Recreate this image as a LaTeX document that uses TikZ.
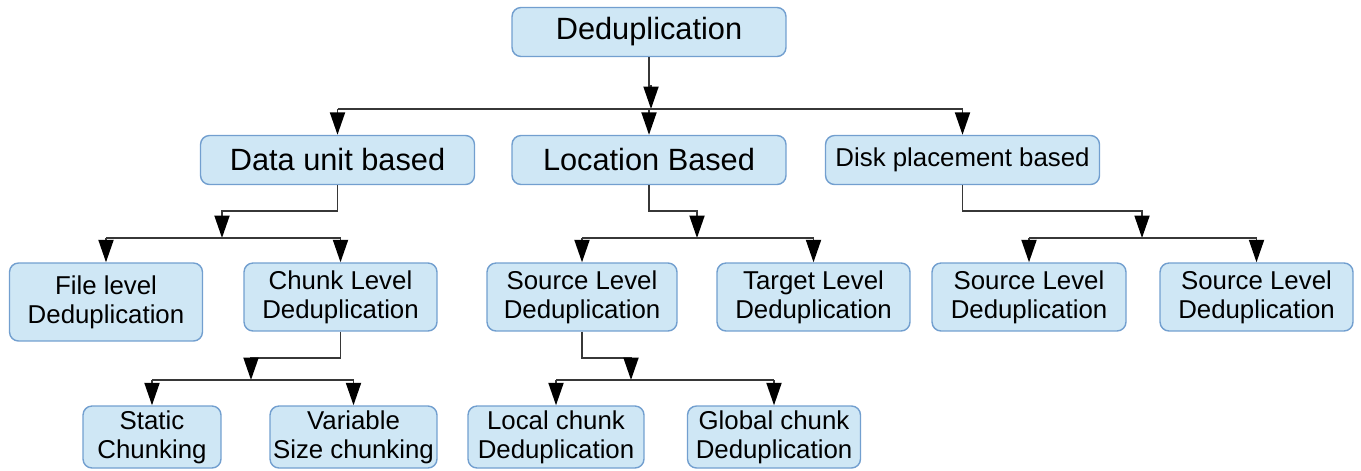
\documentclass[tikz,border=0pt]{standalone}
\usepackage{fontspec}
\setmainfont{Liberation Sans}
\usetikzlibrary{arrows.meta, positioning, calc}
\definecolor{boxfill}{RGB}{207,231,245}
\definecolor{boxborder}{RGB}{114,159,207}
\definecolor{linegray}{RGB}{55,55,55}

\begin{document}
\begin{tikzpicture}[
        x=0.02cm, y=-0.02cm,
        box/.style={rectangle, draw=boxborder, fill=boxfill, rounded corners=0.18cm, line width=0.8pt, align=center, inner sep=1pt, font=\fontsize{14.7}{16.4}\selectfont},
        bigbox/.style={box, minimum width=5.48cm, minimum height=0.98cm, font=\fontsize{17.5}{20}\selectfont},
        leafbox/.style={box, minimum width=3.86cm, minimum height=1.36cm},
        line/.style={draw=linegray, line width=1.1pt},
        arr/.style={line, -{Triangle[length=0.45cm, width=0.3cm, color=black, fill=black]}}
    ]
        \useasboundingbox (0,0) rectangle (1361,470);

        % top levels
        \node[bigbox] (dedup) at (649,32) {Deduplication};
        \node[bigbox] (dataunit) at (337.5,160) {Data unit based};
        \node[bigbox] (location) at (649,160) {Location Based};
        \node[bigbox, font=\fontsize{14.7}{16.4}\selectfont] (disk) at (962.5,160) {Disk placement based};

        % second row
        \node[leafbox, minimum height=1.56cm] (filelevel) at (106,302) {File level\\Deduplication};
        \node[leafbox] (chunklevel) at (340.5,297) {Chunk Level\\Deduplication};
        \node[leafbox, minimum width=3.8cm] (srclocal) at (582,297) {Source Level\\Deduplication};
        \node[leafbox] (target) at (813.5,297) {Target Level\\Deduplication};
        \node[leafbox, minimum width=3.88cm] (srcdisk) at (1029,297) {Source Level\\Deduplication};
        \node[leafbox] (srcdisktwo) at (1256.5,297) {Source Level\\Deduplication};

        % bottom row
        \node[box, minimum width=2.76cm, minimum height=1.24cm] (static) at (152,437) {Static\\Chunking};
        \node[box, minimum width=3.34cm, minimum height=1.24cm] (variable) at (353.5,437) {Variable\\Size chunking};
        \node[box, minimum width=3.52cm, minimum height=1.24cm] (localchunk) at (556,437) {Local chunk\\Deduplication};
        \node[box, minimum width=3.46cm, minimum height=1.24cm] (globalchunk) at (774,437) {Global chunk\\Deduplication};

        % junctions
        \coordinate (jdedup) at (651,109);
        \coordinate (jdata) at (222,238);
        \coordinate (jloc) at (697,238);
        \coordinate (jdisk) at (1142,238);
        \coordinate (jchunk) at (251,380);
        \coordinate (jsrc) at (631,380);

        \draw[arr] (dedup.south) -- ++(0,29) -| (jdedup);
        \draw[line] (dataunit.north |- jdedup) -- (disk.north |- jdedup);
        \foreach \n in {dataunit, location, disk}
            \draw[arr] (\n.north |- jdedup) -- (\n.north);

        \draw[arr] (dataunit.south) -- ++(0,26) -| (jdata);
        \draw[line] (filelevel.north |- jdata) -- (chunklevel.north |- jdata);
        \foreach \n in {filelevel, chunklevel}
            \draw[arr] (\n.north |- jdata) -- (\n.north);

        \draw[arr] (location.south) -- ++(0,26) -| (jloc);
        \draw[line] (srclocal.north |- jloc) -- (target.north |- jloc);
        \foreach \n in {srclocal, target}
            \draw[arr] (\n.north |- jloc) -- (\n.north);

        \draw[arr] (disk.south) -- ++(0,26) -| (jdisk);
        \draw[line] (srcdisk.north |- jdisk) -- (srcdisktwo.north |- jdisk);
        \foreach \n in {srcdisk, srcdisktwo}
            \draw[arr] (\n.north |- jdisk) -- (\n.north);

        \draw[arr] (chunklevel.south) -- ++(0,26) -| (jchunk);
        \draw[line] (static.north |- jchunk) -- (variable.north |- jchunk);
        \foreach \n in {static, variable}
            \draw[arr] (\n.north |- jchunk) -- (\n.north);

        \draw[arr] (srclocal.south) -- ++(0,26) -| (jsrc);
        \draw[line] (localchunk.north |- jsrc) -- (globalchunk.north |- jsrc);
        \foreach \n in {localchunk, globalchunk}
            \draw[arr] (\n.north |- jsrc) -- (\n.north);
    \end{tikzpicture}
\end{document}
